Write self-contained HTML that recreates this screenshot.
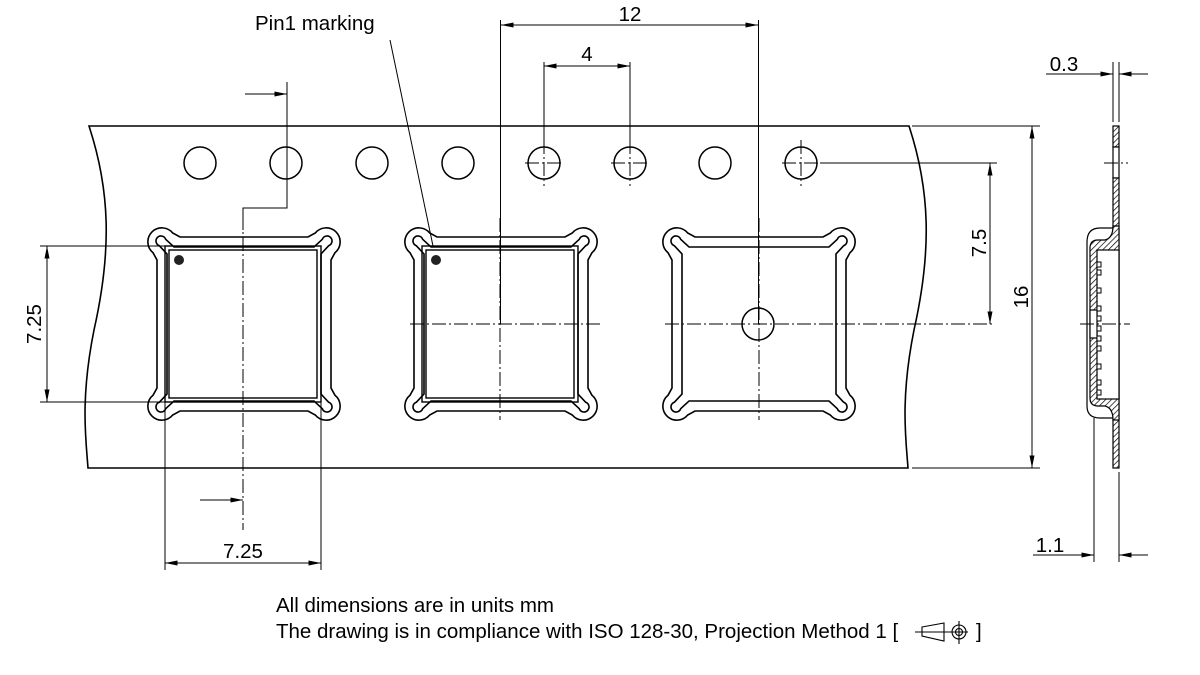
<!DOCTYPE html>
<html><head><meta charset="utf-8"><style>
html,body{margin:0;padding:0;background:#fff;}
svg{display:block;}
text{font-family:"Liberation Sans",Arial,sans-serif;fill:#000;}
</style></head><body>
<svg width="1200" height="675" viewBox="0 0 1200 675" xmlns="http://www.w3.org/2000/svg">
<defs>
<pattern id="h" width="4" height="4" patternUnits="userSpaceOnUse" patternTransform="rotate(45)">
<rect width="4" height="4" fill="#fff"/><line x1="0" y1="0" x2="0" y2="4" stroke="#000" stroke-width="1.4"/>
</pattern>
<marker id="a" viewBox="0 0 10 4" refX="10" refY="2" markerWidth="14" markerHeight="5" markerUnits="userSpaceOnUse" orient="auto-start-reverse"><path d="M0,0 L10,2 L0,4 Z" fill="#000"/></marker>
<g id="pk" fill="none" stroke="#000" stroke-width="1.6">
<path d="M64,-87 L-64,-87 L-71.3,-91 A14,14 0 1 0 -91,-71.3 L-87,-64 L-87,64 L-91,71.3 A14,14 0 1 0 -71.3,91 L-64,87 L64,87 L71.3,91 A14,14 0 1 0 91,71.3 L87,64 L87,-64 L91,-71.3 A14,14 0 1 0 71.3,-91 Z"/>
<path d="M70,-77 L-70,-77 L-78.3,-84.7 A5,5 0 1 0 -84.7,-78.3 L-77,-70 L-77,70 L-84.7,78.3 A5,5 0 1 0 -78.3,84.7 L-70,77 L70,77 L78.3,84.7 A5,5 0 1 0 84.7,78.3 L77,70 L77,-70 L84.7,-78.3 A5,5 0 1 0 78.3,-84.7 Z"/>
</g>
<g id="chip" fill="none" stroke="#000" stroke-width="1.4">
<rect x="-78" y="-78" width="156" height="156"/>
<rect x="-74" y="-74" width="148" height="148"/>
</g>
</defs>

<!-- tape -->
<path d="M89,126 L909,126 C930,190 932,250 914,330 C900,400 906,440 908,468 L88,468 C86,440 80,400 94,330 C112,250 110,190 89,126 Z" fill="none" stroke="#000" stroke-width="1.6"/>

<!-- sprocket holes -->
<g fill="none" stroke="#000" stroke-width="1.5">
<circle cx="200" cy="163" r="16"/><circle cx="286" cy="163" r="16"/><circle cx="372" cy="163" r="16"/><circle cx="458" cy="163" r="16"/>
<circle cx="544" cy="163" r="16"/><circle cx="630" cy="163" r="16"/><circle cx="715" cy="163" r="16"/><circle cx="801" cy="163" r="16"/>
<circle cx="758" cy="324" r="16"/>
</g>

<!-- pockets -->
<use href="#pk" x="244" y="324"/>
<use href="#pk" x="501" y="324"/>
<use href="#pk" x="759" y="324"/>
<use href="#chip" x="243" y="324"/>
<use href="#chip" x="500" y="324"/>
<circle cx="179" cy="260" r="5" fill="#222"/>
<circle cx="436" cy="260" r="5" fill="#222"/>

<!-- centerlines -->
<g stroke="#000" stroke-width="1" stroke-dasharray="14,3,2,3" fill="none">
<line x1="410" y1="324" x2="600" y2="324"/>
<line x1="665" y1="324" x2="995" y2="324"/>
<line x1="243" y1="215" x2="243" y2="530"/>
<line x1="500" y1="218" x2="500" y2="420"/>
<line x1="759" y1="218" x2="759" y2="420"/>
<line x1="544" y1="140" x2="544" y2="186"/><line x1="525" y1="163" x2="563" y2="163"/>
<line x1="630" y1="140" x2="630" y2="186"/><line x1="611" y1="163" x2="649" y2="163"/>
<line x1="801" y1="140" x2="801" y2="186"/><line x1="782" y1="163" x2="820" y2="163"/>
</g>

<!-- dimension lines -->
<g stroke="#000" stroke-width="1" fill="none">
<line x1="500.5" y1="20" x2="500.5" y2="324"/>
<line x1="758.5" y1="20" x2="758.5" y2="324"/>
<line x1="501" y1="25" x2="758" y2="25" marker-start="url(#a)" marker-end="url(#a)"/>
<line x1="544" y1="62" x2="544" y2="150"/>
<line x1="630" y1="62" x2="630" y2="150"/>
<line x1="544" y1="66" x2="630" y2="66" marker-start="url(#a)" marker-end="url(#a)"/>
<line x1="390" y1="40" x2="433" y2="246"/>
<polyline points="287,82 287,208 243,208 243,230"/>
<line x1="245" y1="94" x2="287" y2="94" marker-end="url(#a)"/>
<line x1="200" y1="500" x2="243" y2="500" marker-end="url(#a)"/>
<line x1="40" y1="246" x2="165" y2="246"/>
<line x1="40" y1="402" x2="165" y2="402"/>
<line x1="47" y1="246" x2="47" y2="402" marker-start="url(#a)" marker-end="url(#a)"/>
<line x1="165" y1="402" x2="165" y2="570"/>
<line x1="321" y1="402" x2="321" y2="570"/>
<line x1="165" y1="563" x2="321" y2="563" marker-start="url(#a)" marker-end="url(#a)"/>
<line x1="820" y1="163" x2="997" y2="163"/>
<line x1="990" y1="163" x2="990" y2="324" marker-start="url(#a)" marker-end="url(#a)"/>
<line x1="912" y1="126" x2="1040" y2="126"/>
<line x1="912" y1="468" x2="1040" y2="468"/>
<line x1="1032" y1="126" x2="1032" y2="468" marker-start="url(#a)" marker-end="url(#a)"/>
<line x1="1113" y1="62" x2="1113" y2="122"/>
<line x1="1119" y1="62" x2="1119" y2="122"/>
<line x1="1046" y1="74" x2="1113" y2="74" marker-end="url(#a)"/>
<line x1="1148" y1="74" x2="1119" y2="74" marker-end="url(#a)"/>
<line x1="1094" y1="418" x2="1094" y2="562"/>
<line x1="1119" y1="472" x2="1119" y2="562"/>
<line x1="1033" y1="555" x2="1094" y2="555" marker-end="url(#a)"/>
<line x1="1148" y1="555" x2="1119" y2="555" marker-end="url(#a)"/>
</g>

<!-- side view -->
<g stroke="#000" stroke-width="1.2">
<rect x="1113" y="126" width="6" height="21" fill="url(#h)"/>
<rect x="1113" y="147" width="6" height="31" fill="#fff"/>
<rect x="1113" y="178" width="6" height="290" fill="url(#h)"/>
<path d="M1119,228 L1100,228 Q1087,228 1087,242 L1087,406 Q1087,418 1100,418 L1119,418" fill="#fff"/>
<path d="M1113,226 Q1113,238 1105,240 L1098,240 Q1090,240 1090,248 L1090,398 Q1090,406 1098,406 L1105,406 Q1113,408 1113,420 L1119,420 L1119,226 Z" fill="url(#h)"/>
<rect x="1097" y="250" width="22" height="149" fill="#fff"/>
<rect x="1090" y="310" width="7" height="28" fill="#fff"/>
<g fill="#fff" stroke-width="1">
<rect x="1097" y="262" width="4" height="5"/><rect x="1097" y="270" width="4" height="5"/><rect x="1097" y="288" width="4" height="5"/>
<rect x="1097" y="306" width="4" height="5"/><rect x="1097" y="316" width="4" height="5"/><rect x="1097" y="326" width="4" height="5"/>
<rect x="1097" y="336" width="4" height="5"/><rect x="1097" y="346" width="4" height="5"/><rect x="1097" y="364" width="4" height="5"/>
<rect x="1097" y="380" width="4" height="5"/><rect x="1097" y="390" width="4" height="5"/>
</g>
</g>
<g stroke="#000" stroke-width="1" stroke-dasharray="14,3,2,3">
<line x1="1104" y1="163" x2="1128" y2="163"/>
<line x1="1080" y1="324" x2="1130" y2="324"/>
</g>

<!-- labels -->
<g font-size="20.5">
<text x="255" y="30">Pin1 marking</text>
<text x="630" y="21" text-anchor="middle">12</text>
<text x="587" y="61" text-anchor="middle">4</text>
<text x="243" y="558" text-anchor="middle">7.25</text>
<text transform="translate(41,324) rotate(-90)" text-anchor="middle">7.25</text>
<text transform="translate(986,243) rotate(-90)" text-anchor="middle">7.5</text>
<text transform="translate(1028,297) rotate(-90)" text-anchor="middle">16</text>
<text x="1064" y="71" text-anchor="middle">0.3</text>
<text x="1050" y="552" text-anchor="middle">1.1</text>
<text x="276" y="612">All dimensions are in units mm</text>
<text x="276" y="638">The drawing is in compliance with ISO 128-30, Projection Method 1 [</text>
<text x="976" y="638">]</text>
</g>
<g stroke="#000" stroke-width="1.1" fill="none">
<path d="M922,627 L944,623 L944,641 L922,636 Z"/>
<line x1="915" y1="632" x2="968" y2="632"/>
<circle cx="959" cy="632" r="7"/><circle cx="959" cy="632" r="3.5"/>
<line x1="959" y1="621" x2="959" y2="644"/>
</g>
</svg>
</body></html>
